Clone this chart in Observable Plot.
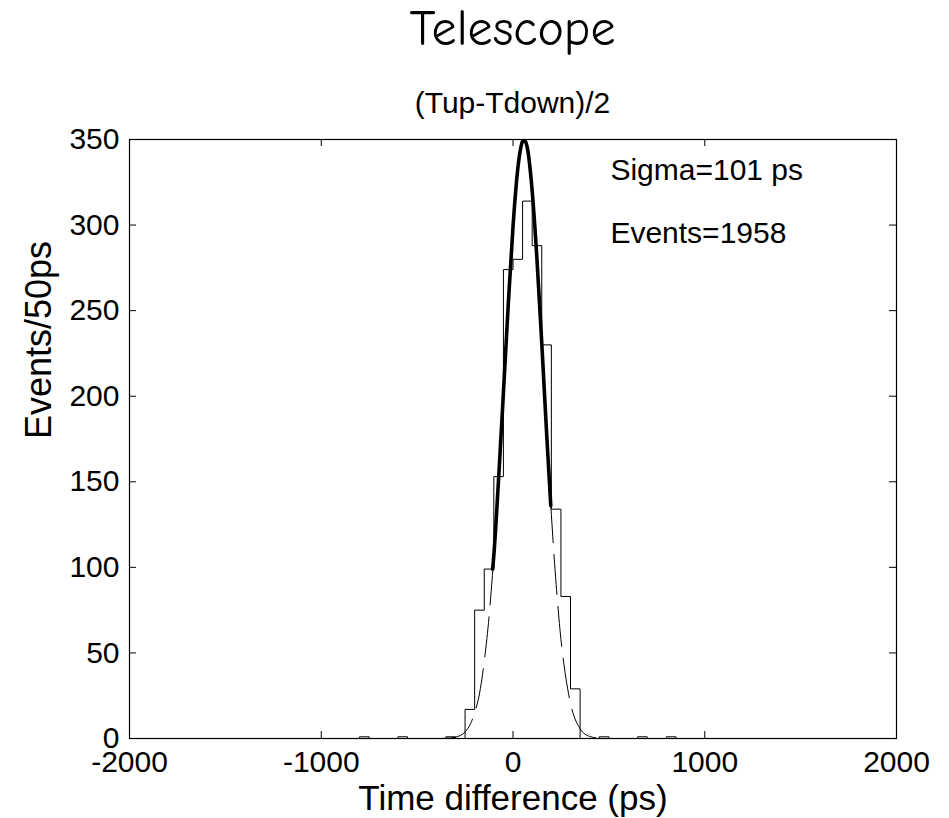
<!DOCTYPE html>
<html>
<head>
<meta charset="utf-8">
<script src="https://cdn.jsdelivr.net/npm/d3@7"></script>
<script src="https://cdn.jsdelivr.net/npm/@observablehq/plot@0.6"></script>
<style>
  body { margin: 0; background: #fff; }
  #header { position: relative; width: 949px; height: 118px; }
  #title { position: absolute; left: 129px; width: 767px; top: 4px; text-align: center;
           font-family: "Comic Sans MS", "Comic Neue", Lato, sans-serif; font-size: 50px; line-height: 1; color: #000; }
  #subtitle { position: absolute; left: 129px; width: 767px; top: 88px; text-align: center;
              font-family: "Liberation Sans", Arial, sans-serif; font-size: 30px; line-height: 1; color: #000; }
</style>
</head>
<body>
<div id="header">
  <div id="title">Telescope</div>
  <div id="subtitle">(Tup-Tdown)/2</div>
</div>
<div id="chart"></div>
<script>
// ---- data ----
const xTicks = [-2000, -1000, 0, 1000, 2000];
const yTicks = [0, 50, 100, 150, 200, 250, 300, 350];

// histogram (stairs): left bin edge (ps) and count in the 50 ps bin starting there
const histEdges  = [-2000, -800, -750, -600, -550, -350, -300, -250, -200, -150, -100, -50, 0, 50, 100, 150, 200, 250, 300, 350, 450, 500, 650, 700, 800, 850, 1950];
const histCounts = [0, 1, 0, 1, 0, 1, 0, 17, 75, 99, 153, 274, 280, 314, 288, 230, 134, 83, 29, 0, 1, 0, 1, 0, 1, 0, 0];

// gaussian fit, dashed over the whole range
const fitT = [-2000, -450, -400, -350, -300, -250, -200, -175, -150, -125, -100, -75, -50, -25, 0, 25, 50, 57, 75, 100, 125, 150, 175, 200, 225, 250, 275, 300, 350, 400, 450, 500, 2000];
const fitY = [0, 0, 0, 0.1, 0.8, 3.8, 15, 26, 45, 71, 107, 152, 202, 253, 299, 333, 349, 350, 345, 320, 280, 231, 179, 131, 90, 58, 36, 20.5, 5.7, 1.2, 0.2, 0, 0];

// gaussian fit, thick over the fitted range
const fitRangeT = [-106, -100, -75, -50, -25, 0, 25, 50, 57, 75, 100, 125, 150, 175, 197];
const fitRangeY = [99, 107, 152, 202, 253, 299, 333, 349, 350, 345, 320, 280, 231, 179, 136];

const annotations = ["Sigma=101 ps", "Events=1958"];
const xLabel = "Time difference (ps)";
const yLabel = "Events/50ps";

// ---- tables built from the arrays ----
const hist = histEdges.map((e, i) => ({t: e, n: histCounts[i]}));
const fit = fitT.map((t, i) => ({t, y: fitY[i]}));
const fitRange = fitRangeT.map((t, i) => ({t, y: fitRangeY[i]}));

const W = 949, H = 700;
const mL = 129, mR = 53, mT = 21, mB = 80;
const fw = W - mL - mR, fh = H - mT - mB;
const tick = 7;
const font = "Liberation Sans, Arial, sans-serif";

const chart = Plot.plot({
  width: W, height: H,
  marginLeft: mL, marginRight: mR, marginTop: mT, marginBottom: mB,
  style: {fontFamily: font, fontSize: "30px", background: "transparent", color: "#000"},
  x: {domain: [-2000, 2000]},
  y: {domain: [0, 350]},
  marks: [
    Plot.line(fit, {x: "t", y: "y", curve: "monotone-x", stroke: "#000", strokeWidth: 1, strokeDasharray: "40,12", clip: true}),
    Plot.line(hist, {x: "t", y: "n", curve: "step-after", stroke: "#000", strokeWidth: 1, clip: true}),
    Plot.line(fitRange, {x: "t", y: "y", curve: "monotone-x", stroke: "#000", strokeWidth: 3.6, clip: true}),
    Plot.frame({stroke: "#000", strokeWidth: 1.2}),
    // inward tick marks on all four sides
    Plot.ruleX(xTicks, {x: d => d, insetTop: fh - tick, stroke: "#000"}),
    Plot.ruleX(xTicks, {x: d => d, insetBottom: fh - tick, stroke: "#000"}),
    Plot.ruleY(yTicks, {y: d => d, insetRight: fw - tick, stroke: "#000"}),
    Plot.ruleY(yTicks, {y: d => d, insetLeft: fw - tick, stroke: "#000"}),
    Plot.axisX({ticks: xTicks, tickSize: 0, tickPadding: 12, fontSize: 30, label: null, tickFormat: d => String(d)}),
    Plot.axisY({ticks: yTicks, tickSize: 0, tickPadding: 10, fontSize: 30, label: null, tickFormat: d => String(d)}),
    Plot.text([xLabel], {text: d => d, frameAnchor: "bottom", dy: 71, lineAnchor: "bottom", fontSize: 35, fill: "#000"}),
    Plot.text([yLabel], {text: d => d, frameAnchor: "left", rotate: -90, dx: -79, lineAnchor: "bottom", fontSize: 36, fill: "#000"}),
    Plot.text([annotations[0]], {text: d => d, x: 508, y: 326.3, textAnchor: "start", lineAnchor: "bottom", fontSize: 30, fill: "#000"}),
    Plot.text([annotations[1]], {text: d => d, x: 508, y: 289.6, textAnchor: "start", lineAnchor: "bottom", fontSize: 30, fill: "#000"})
  ]
});
document.getElementById("chart").appendChild(chart);
</script>
</body>
</html>
